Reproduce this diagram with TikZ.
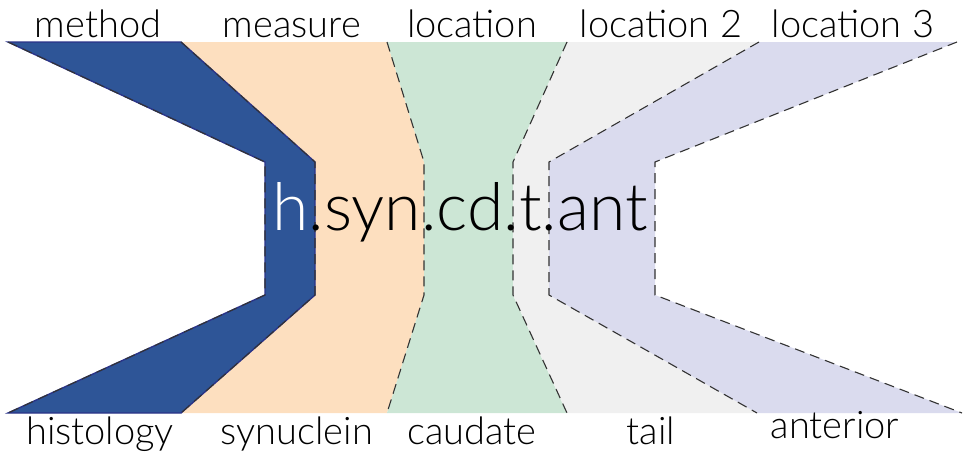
\documentclass[tikz,border=0pt]{standalone}
\usepackage{fontspec}
\setmainfont{Lato Light}
\definecolor{cblue}{HTML}{2E5597}
\definecolor{cnavy}{HTML}{2A3388}
\definecolor{cpeach}{HTML}{FDDFBF}
\definecolor{cgreen}{HTML}{CCE6D5}
\definecolor{cgray}{HTML}{F0F0F0}
\definecolor{clav}{HTML}{DADBEE}
\definecolor{cdash}{HTML}{333333}
\tikzset{
  sep/.style={draw=cdash, line width=1.1pt, dash pattern=on 10pt off 6pt},
  lbl/.style={anchor=base, inner sep=0pt, font=\fontsize{38}{38}\selectfont},
  big/.style={anchor=base, inner sep=0pt, font=\fontsize{66}{66}\selectfont}
}
\begin{document}
\begin{tikzpicture}[x=1pt,y=-1pt]
\useasboundingbox (0,0) rectangle (963,458);
% boundaries
\coordinate (a0) at (8,42);   \coordinate (a1) at (265,162); \coordinate (a2) at (265,295); \coordinate (a3) at (8,413);
\coordinate (b0) at (181,42); \coordinate (b1) at (315,162); \coordinate (b2) at (315,295); \coordinate (b3) at (181,413);
\coordinate (c0) at (387,42); \coordinate (c1) at (424,162); \coordinate (c2) at (424,295); \coordinate (c3) at (387,413);
\coordinate (d0) at (567,42); \coordinate (d1) at (513,162); \coordinate (d2) at (513,295); \coordinate (d3) at (567,413);
\coordinate (e0) at (759,42); \coordinate (e1) at (549,162); \coordinate (e2) at (549,295); \coordinate (e3) at (757,413);
\coordinate (f0) at (957,42); \coordinate (f1) at (655,162); \coordinate (f2) at (655,295); \coordinate (f3) at (962,413);
% fills
\fill[cpeach] (b0)--(c0)--(c1)--(c2)--(c3)--(b3)--(b2)--(b1)--cycle;
\fill[cgreen] (c0)--(d0)--(d1)--(d2)--(d3)--(c3)--(c2)--(c1)--cycle;
\fill[cgray] (d0)--(e0)--(e1)--(e2)--(e3)--(d3)--(d2)--(d1)--cycle;
\fill[clav] (e0)--(f0)--(f1)--(f2)--(f3)--(e3)--(e2)--(e1)--cycle;
\filldraw[fill=cblue, draw=cnavy, line width=1.4pt, line join=miter] (a0)--(b0)--(b1)--(b2)--(b3)--(a3)--(a2)--(a1)--cycle;
% separators
\draw[sep] (a0)--(a1)--(a2)--(a3);
\draw[sep] (b0)--(b1)--(b2)--(b3);
\draw[sep] (c0)--(c1)--(c2)--(c3);
\draw[sep] (d0)--(d1)--(d2)--(d3);
\draw[sep] (e0)--(e1)--(e2)--(e3);
\draw[sep] (f0)--(f1)--(f2)--(f3);
% top labels
\node[lbl] (tmethod) at (98,37) {method};
\node[lbl] (tmeasure) at (292,37) {measure};
\node[lbl] (tloc) at (472,37) {location};
\node[lbl] (tloc2) at (661,37) {location 2};
\node[lbl] (tloc3) at (853,37) {location 3};
% bottom labels
\node[lbl] (bhist) at (100,444) {histology};
\node[lbl] (bsyn) at (297,444) {synuclein};
\node[lbl] (bcaud) at (472,444) {caudate};
\node[lbl] (btail) at (651,444) {tail};
\node[lbl] (bant) at (835,438) {anterior};
% centre
\node[big] (code) at (460,230) {\textcolor{white}{h}.syn.cd.t.ant};
\end{tikzpicture}
\end{document}
